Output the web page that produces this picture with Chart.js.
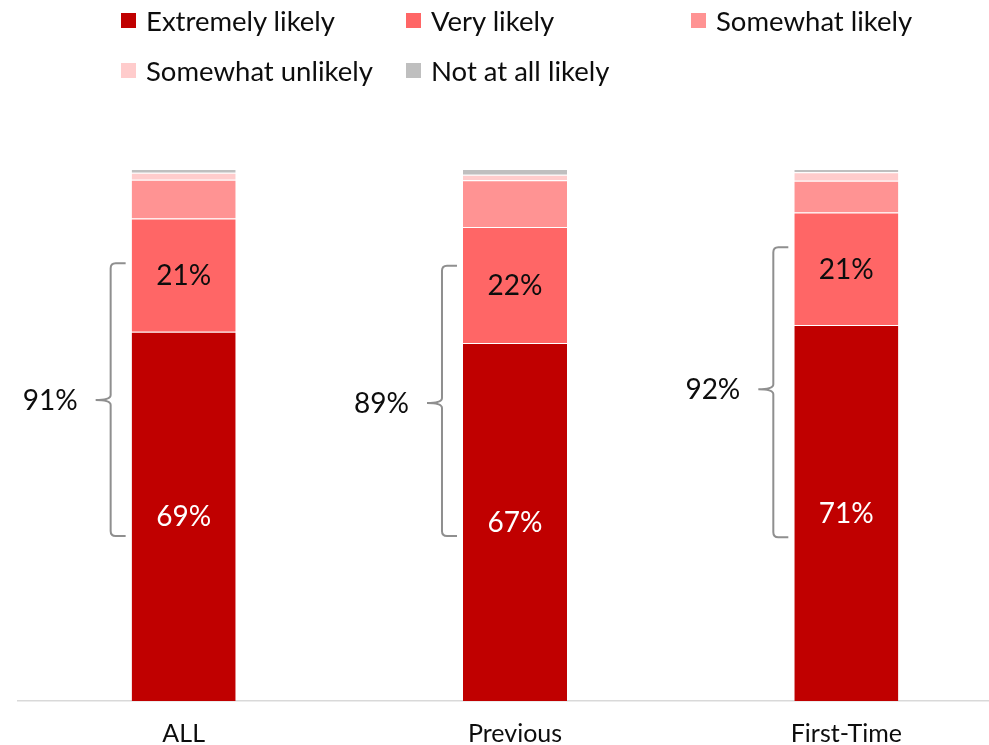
<!DOCTYPE html>
<html>
<head>
<meta charset="utf-8">
<script src="https://cdn.jsdelivr.net/npm/chart.js@4"></script>
<style>
  html, body { margin: 0; padding: 0; overflow: hidden; background: #fff; }
  #wrap { position: relative; width: 1013px; height: 745px; }
  #legend {
    position: absolute; left: 121px; top: -5px; width: 870px;
    display: flex; flex-wrap: wrap;
    font-family: Lato, "Noto Sans", sans-serif; font-size: 27.5px; color: #0d0d0d;
  }
  .item { width: 285px; height: 50px; display: flex; align-items: center; }
  .box { width: 15px; height: 15px; margin-right: 10px; flex: none; }
</style>
</head>
<body>
<div id="wrap">
  <canvas id="chart"></canvas>
  <div id="legend"></div>
</div>
<script>
const categories = ["ALL", "Previous", "First-Time"];
const seriesNames = ["Extremely likely", "Very likely", "Somewhat likely", "Somewhat unlikely", "Not at all likely"];
const extremelyLikely = [69.4, 67.3, 70.7];
const veryLikely = [21.3, 21.8, 21.1];
const somewhatLikely = [7.3, 8.8, 6.0];
const somewhatUnlikely = [1.3, 1.0, 1.6];
const notAtAllLikely = [0.7, 1.1, 0.6];
const colors = ["#C00000", "#FF6666", "#FF9393", "#FFCCCC", "#BFBFBF"];

// where the curly brackets start, end and point (in % units on the y axis)
const bracketTop = [82.3, 81.8, 85.3];
const bracketBottom = [31.0, 31.0, 30.8];
const bracketMid = [56.6, 56.0, 58.6];

const allSeries = [extremelyLikely, veryLikely, somewhatLikely, somewhatUnlikely, notAtAllLikely];

const FONT = "Lato, 'Noto Sans', sans-serif";

const labelPlugin = {
    id: "segmentLabels",
    afterDatasetsDraw(chart) {
        const ctx = chart.ctx;
        ctx.save();
        ctx.font = "28px " + FONT;
        ctx.textAlign = "center";
        ctx.textBaseline = "middle";
        [0, 1].forEach(function (ds) {
            const meta = chart.getDatasetMeta(ds);
            meta.data.forEach(function (bar, i) {
                ctx.fillStyle = ds === 0 ? "#ffffff" : "#0d0d0d";
                const value = chart.data.datasets[ds].data[i];
                ctx.fillText(Math.round(value) + "%", bar.x, (bar.y + bar.base) / 2 + 1);
            });
        });

        // brackets with the top-2 total
        const yScale = chart.scales.y;
        chart.getDatasetMeta(0).data.forEach(function (bar, i) {
            const left = bar.x - bar.width / 2;
            const vx = left - 21;
            const arm = left - 6;
            const tip = vx - 15;
            const top = yScale.getPixelForValue(bracketTop[i]);
            const bottom = yScale.getPixelForValue(bracketBottom[i]);
            const mid = yScale.getPixelForValue(bracketMid[i]);
            const r = 5;
            ctx.strokeStyle = "#8f8f8f";
            ctx.lineWidth = 2;
            ctx.beginPath();
            ctx.moveTo(arm, top);
            ctx.lineTo(vx + r, top);
            ctx.quadraticCurveTo(vx, top, vx, top + r);
            ctx.lineTo(vx, mid - r);
            ctx.quadraticCurveTo(vx, mid, tip, mid);
            ctx.moveTo(tip, mid);
            ctx.quadraticCurveTo(vx, mid, vx, mid + r);
            ctx.lineTo(vx, bottom - r);
            ctx.quadraticCurveTo(vx, bottom, vx + r, bottom);
            ctx.lineTo(arm, bottom);
            ctx.stroke();

            const total = Math.round(extremelyLikely[i] + veryLikely[i]);
            ctx.fillStyle = "#0d0d0d";
            ctx.textAlign = "right";
            ctx.fillText(total + "%", tip - 18, mid + 1);
            ctx.textAlign = "center";
        });
        ctx.restore();
    }
};

const ctx = document.getElementById("chart").getContext("2d");
const chart = new Chart(ctx, {
    type: "bar",
    data: {
        labels: categories,
        datasets: seriesNames.map(function (name, k) {
            return {
                label: name,
                data: allSeries[k],
                backgroundColor: colors[k],
                borderColor: "rgba(255,255,255,0.7)",
                borderWidth: { top: 1, left: 0, right: 0, bottom: 0 },
                borderSkipped: false,
                barPercentage: 1,
                categoryPercentage: 0.314
            };
        })
    },
    options: {
        responsive: true,
        maintainAspectRatio: false,
        animation: false,
        layout: { padding: { top: 169, left: 18, right: 1, bottom: 0 } },
        plugins: { legend: { display: false }, tooltip: { enabled: false } },
        scales: {
            x: {
                stacked: true,
                grid: { display: false, drawTicks: false },
                border: { color: "#d9d9d9", width: 1.5 },
                ticks: { color: "#0d0d0d", padding: 20, font: { family: FONT, size: 25, lineHeight: 1 } },
                afterFit(scale) { scale.height = 44; }
            },
            y: {
                stacked: true,
                display: false,
                min: 0,
                max: 100
            }
        }
    },
    plugins: [labelPlugin]
});

// legend laid out as in the original: three per row
const legend = document.getElementById("legend");
chart.data.datasets.forEach(function (ds) {
    const item = document.createElement("div");
    item.className = "item";
    item.innerHTML = '<span class="box" style="background:' + ds.backgroundColor + '"></span><span>' + ds.label + '</span>';
    legend.appendChild(item);
});
</script>
</body>
</html>
